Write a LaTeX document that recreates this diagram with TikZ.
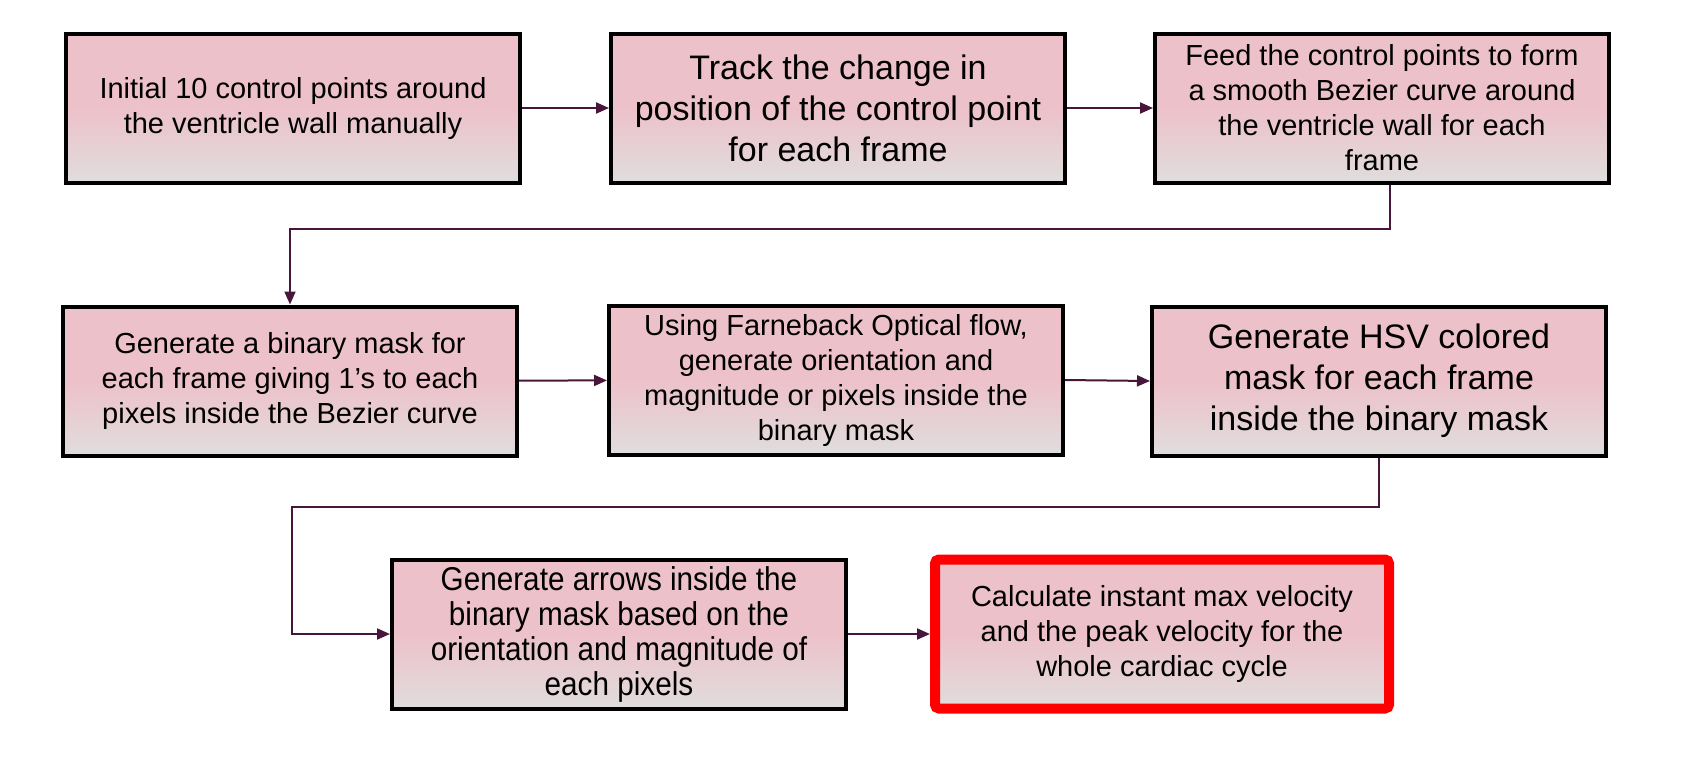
\documentclass[tikz,border=0pt]{standalone}
\usepackage{fontspec}
\setmainfont{Liberation Sans}
\newfontfamily\narrowsans[FakeStretch=0.9]{Liberation Sans}
\usetikzlibrary{arrows.meta}

\definecolor{boxpink}{RGB}{237,193,202}
\definecolor{boxgrey}{RGB}{224,221,221}
\definecolor{linkpurple}{RGB}{72,22,58}

\begin{document}
\begin{tikzpicture}[x=1pt,y=-1pt,
    stepbox/.style={draw=black, line width=4pt, top color=boxpink, bottom color=boxgrey, middle color=boxpink,
        minimum width=454pt, minimum height=149pt, inner sep=0pt, align=center,
        font=\fontsize{29}{35}\selectfont},
    bigtext/.style={font=\fontsize{34}{41}\selectfont},
    narrowtext/.style={font=\narrowsans\fontsize{33}{35}\selectfont},
    finalbox/.style={stepbox, draw=red, line width=10pt, rounded corners=4pt,
        minimum width=454pt, minimum height=149pt},
    link/.style={draw=linkpurple, line width=2pt, -{Triangle[length=13pt,width=11pt]}}]

    \useasboundingbox (0,0) rectangle (1681,769);

    % first row
    \node[stepbox] (init) at (293,108) {Initial 10 control points around\\the ventricle wall manually};
    \node[stepbox, bigtext] (track) at (838,108) {Track the change in\\position of the control point\\for each frame};
    \node[stepbox] (feed) at (1382,108) {Feed the control points to form\\a smooth Bezier curve around\\the ventricle wall for each\\frame};

    % second row
    \node[stepbox] (mask) at (290,381) {Generate a binary mask for\\each frame giving 1’s to each\\pixels inside the Bezier curve};
    \node[stepbox] (flow) at (836,380) {Using Farneback Optical flow,\\generate orientation and\\magnitude or pixels inside the\\binary mask};
    \node[stepbox, bigtext] (hsv) at (1379,381) {Generate HSV colored\\mask for each frame\\inside the binary mask};

    % third row
    \node[stepbox, narrowtext] (arrows) at (619,634) {Generate arrows inside the\\binary mask based on the\\orientation and magnitude of\\each pixels};
    \node[finalbox] (velo) at (1162,634) {Calculate instant max velocity\\and the peak velocity for the\\whole cardiac cycle};

    % turning points of the long links
    \coordinate (railA) at (1390,229);
    \coordinate (railB) at (292,507);

    \draw[link] (init) -- (track);
    \draw[link] (track) -- (feed);
    \draw[link] (feed.south -| railA) -- (railA) -| (mask.north);
    \draw[link] (mask) -- (flow);
    \draw[link] (flow.east) -- (hsv.west);
    \draw[link] (hsv.south) |- (railB) |- (arrows.west);
    \draw[link] (arrows) -- (velo);
\end{tikzpicture}
\end{document}
